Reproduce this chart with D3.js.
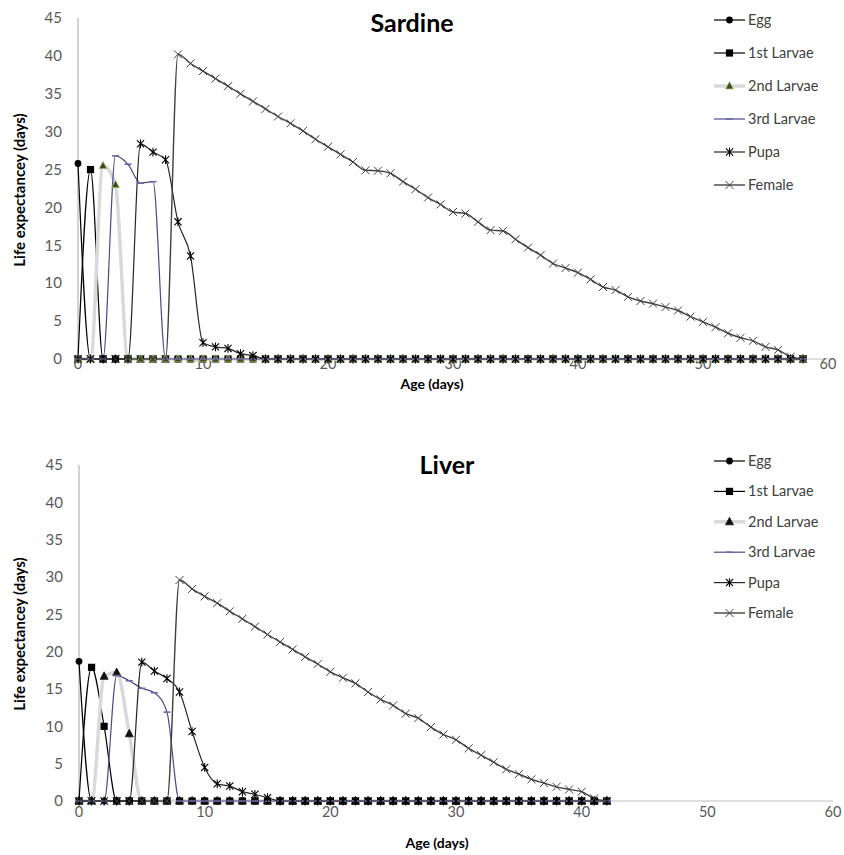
<!DOCTYPE html>
<html><head><meta charset="utf-8">
<script src="https://cdn.jsdelivr.net/npm/d3@7"></script>
<style>
body{margin:0;background:#fff}
svg{display:block}
text{font-family:Lato,"Open Sans",sans-serif}
</style>
</head><body>
<svg id="c" width="844" height="855"></svg>
<script>
// ---------- DATA ----------
const seriesNames = ["Egg", "1st Larvae", "2nd Larvae", "3rd Larvae", "Pupa", "Female"];
const xTicks = [0, 10, 20, 30, 40, 50, 60];
const yTicks = [0, 5, 10, 15, 20, 25, 30, 35, 40, 45];

// Sardine: ages 0..58
const sardineAge = [0,1,2,3,4,5,6,7,8,9,10,11,12,13,14,15,16,17,18,19,20,21,22,23,24,25,26,27,28,29,30,31,32,33,34,35,36,37,38,39,40,41,42,43,44,45,46,47,48,49,50,51,52,53,54,55,56,57,58];
const sardineEgg = [25.8,0,0,0,0,0,0,0,0,0,0,0,0,0,0,0,0,0,0,0,0,0,0,0,0,0,0,0,0,0,0,0,0,0,0,0,0,0,0,0,0,0,0,0,0,0,0,0,0,0,0,0,0,0,0,0,0,0,0];
const sardineL1 = [0,25.0,0,0,0,0,0,0,0,0,0,0,0,0,0,0,0,0,0,0,0,0,0,0,0,0,0,0,0,0,0,0,0,0,0,0,0,0,0,0,0,0,0,0,0,0,0,0,0,0,0,0,0,0,0,0,0,0,0];
const sardineL2 = [0,0,25.5,23.0,0,0,0,0,0,0,0,0,0,0,0,0,0,0,0,0,0,0,0,0,0,0,0,0,0,0,0,0,0,0,0,0,0,0,0,0,0,0,0,0,0,0,0,0,0,0,0,0,0,0,0,0,0,0,0];
const sardineL3 = [0,0,0,26.8,25.7,23.2,23.4,0,0,0,0,0,0,0,0,0,0,0,0,0,0,0,0,0,0,0,0,0,0,0,0,0,0,0,0,0,0,0,0,0,0,0,0,0,0,0,0,0,0,0,0,0,0,0,0,0,0,0,0];
const sardinePupa = [0,0,0,0,0,28.4,27.3,26.3,18.1,13.6,2.15,1.6,1.4,0.7,0.45,0,0,0,0,0,0,0,0,0,0,0,0,0,0,0,0,0,0,0,0,0,0,0,0,0,0,0,0,0,0,0,0,0,0,0,0,0,0,0,0,0,0,0,0];
const sardineFemale = [0,0,0,0,0,0,0,0,40.2,39.0,38.0,37.0,36.0,35.0,34.0,33.0,32.0,31.1,30.1,29.0,28.0,27.0,26.0,24.9,24.85,24.5,23.4,22.4,21.3,20.4,19.4,19.2,18.1,17.0,16.9,15.8,14.7,13.7,12.6,12.0,11.4,10.5,9.5,9.1,8.2,7.65,7.3,6.85,6.4,5.6,4.9,4.2,3.4,2.8,2.4,1.6,1.2,0.3,0];

// Liver: ages 0..42
const liverAge = [0,1,2,3,4,5,6,7,8,9,10,11,12,13,14,15,16,17,18,19,20,21,22,23,24,25,26,27,28,29,30,31,32,33,34,35,36,37,38,39,40,41,42];
const liverEgg = [18.7,0,0,0,0,0,0,0,0,0,0,0,0,0,0,0,0,0,0,0,0,0,0,0,0,0,0,0,0,0,0,0,0,0,0,0,0,0,0,0,0,0,0];
const liverL1 = [0,17.9,10.0,0,0,0,0,0,0,0,0,0,0,0,0,0,0,0,0,0,0,0,0,0,0,0,0,0,0,0,0,0,0,0,0,0,0,0,0,0,0,0,0];
const liverL2 = [0,0,16.7,17.2,9.0,0,0,0,0,0,0,0,0,0,0,0,0,0,0,0,0,0,0,0,0,0,0,0,0,0,0,0,0,0,0,0,0,0,0,0,0,0,0];
const liverL3 = [0,0,0,16.8,16.1,15.1,14.5,11.9,0,0,0,0,0,0,0,0,0,0,0,0,0,0,0,0,0,0,0,0,0,0,0,0,0,0,0,0,0,0,0,0,0,0,0];
const liverPupa = [0,0,0,0,0,18.6,17.4,16.4,14.6,9.3,4.5,2.3,2.0,1.25,0.9,0.45,0,0,0,0,0,0,0,0,0,0,0,0,0,0,0,0,0,0,0,0,0,0,0,0,0,0,0];
const liverFemale = [0,0,0,0,0,0,0,0,29.6,28.4,27.4,26.5,25.4,24.4,23.35,22.3,21.3,20.3,19.3,18.35,17.3,16.5,15.75,14.6,13.6,12.8,11.7,11.1,9.9,8.9,8.2,7.05,6.15,5.2,4.25,3.6,2.9,2.4,1.9,1.55,1.25,0.35,0];

// ---------- STYLE / LAYOUT ----------
const svg = d3.select("#c");

const styles = [
  {line:"#000", lw:1.2, marker:"circle"},
  {line:"#000", lw:1.2, marker:"square"},
  {line:"#d9d9d9", lw:3.5, marker:"triangle"},
  {line:"#4b4b8c", lw:1.2, marker:"dash"},
  {line:"#262626", lw:1.2, marker:"star"},
  {line:"#404040", lw:1.4, marker:"times"}
];

const panels = [
  {title:"Sardine", age:sardineAge, series:[sardineEgg,sardineL1,sardineL2,sardineL3,sardinePupa,sardineFemale],
   x0:78, x1:828, yBottom:359, yTop:18, titleX:412, titleY:32, xLabY:369, xTitleX:432, xTitleY:389, yTitleY:190,
   legY:20, legStep:33, triFill:"#3d4a1c", triStroke:"#b5c98a"},
  {title:"Liver", age:liverAge, series:[liverEgg,liverL1,liverL2,liverL3,liverPupa,liverFemale],
   x0:79, x1:833, yBottom:801, yTop:465, titleX:447, titleY:474, xLabY:817, xTitleX:437, xTitleY:848, yTitleY:634,
   legY:461, legStep:30.4, triFill:"#111", triStroke:"#111"}
];

function drawMarker(g, type, x, y, p) {
  if (type === "circle") {
    g.append("circle").attr("cx", x).attr("cy", y).attr("r", 3.4).attr("fill", "#000");
  } else if (type === "square") {
    g.append("rect").attr("x", x-3.6).attr("y", y-3.6).attr("width", 7.2).attr("height", 7.2).attr("fill", "#000");
  } else if (type === "triangle") {
    g.append("path").attr("transform", `translate(${x},${y})`)
      .attr("d", "M0,-4.5L4,3L-4,3Z").attr("fill", p.triFill).attr("stroke", p.triStroke).attr("stroke-width", 0.8);
  } else if (type === "dash") {
    g.append("line").attr("x1", x-3.5).attr("x2", x+3.5).attr("y1", y).attr("y2", y)
      .attr("stroke", "#6a6aa0").attr("stroke-width", 1.6);
  } else if (type === "star") {
    const s = 3.6;
    g.append("path").attr("transform", `translate(${x},${y})`)
      .attr("d", `M${-s},${-s}L${s},${s}M${-s},${s}L${s},${-s}M0,${-s-0.8}L0,${s+0.8}`)
      .attr("stroke", "#000").attr("stroke-width", 1.1).attr("fill", "none");
  } else if (type === "times") {
    const s = 4;
    g.append("path").attr("transform", `translate(${x},${y})`)
      .attr("d", `M${-s},${-s}L${s},${s}M${-s},${s}L${s},${-s}`)
      .attr("stroke", "#404040").attr("stroke-width", 1).attr("fill", "none");
  }
}

panels.forEach(p => {
  const x = d3.scaleLinear().domain([0, 60]).range([p.x0, p.x1]);
  const y = d3.scaleLinear().domain([0, 45]).range([p.yBottom, p.yTop]);
  const g = svg.append("g");

  // axes lines
  g.append("line").attr("x1", x(0)).attr("x2", x(0)).attr("y1", y(45)).attr("y2", y(0))
    .attr("stroke", "#a6a6a6").attr("stroke-width", 1);
  g.append("line").attr("x1", x(0)).attr("x2", x(60)).attr("y1", y(0)).attr("y2", y(0))
    .attr("stroke", "#bfbfbf").attr("stroke-width", 1);

  // y tick labels
  g.selectAll(".yt").data(yTicks).enter().append("text")
    .attr("x", x(0) - 16).attr("y", d => y(d)).attr("dy", "0.35em")
    .attr("text-anchor", "end").attr("font-size", 15).attr("fill", "#595959").text(d => d);
  // x tick labels
  g.selectAll(".xt").data(xTicks).enter().append("text")
    .attr("x", d => x(d)).attr("y", p.xLabY)
    .attr("text-anchor", "middle").attr("font-size", 14.5).attr("fill", "#595959").text(d => d);

  // titles
  g.append("text").attr("x", p.titleX).attr("y", p.titleY).attr("text-anchor", "middle")
    .attr("font-size", 25).attr("font-weight", "bold").attr("fill", "#000").text(p.title);
  g.append("text").attr("x", p.xTitleX).attr("y", p.xTitleY).attr("text-anchor", "middle")
    .attr("font-size", 14).attr("font-weight", "bold").attr("fill", "#000").text("Age (days)");
  g.append("text").attr("transform", `translate(25,${p.yTitleY}) rotate(-90)`).attr("text-anchor", "middle")
    .attr("font-size", 15).attr("font-weight", "bold").attr("fill", "#000").text("Life expectancey (days)");

  // lines
  const line = d3.line().x((d, i) => x(p.age[i])).y(d => y(d)).curve(d3.curveMonotoneX);
  p.series.forEach((s, k) => {
    g.append("path").datum(s).attr("d", line).attr("fill", "none")
      .attr("stroke", styles[k].line).attr("stroke-width", styles[k].lw).attr("stroke-linejoin", "round");
  });
  // markers
  p.series.forEach((s, k) => {
    const mg = g.append("g");
    s.forEach((v, i) => drawMarker(mg, styles[k].marker, x(p.age[i]), y(v), p));
  });

  // legend
  seriesNames.forEach((name, k) => {
    const ly = p.legY + k * p.legStep;
    const lg = g.append("g");
    lg.append("line").attr("x1", 714).attr("x2", 745).attr("y1", ly).attr("y2", ly)
      .attr("stroke", styles[k].line).attr("stroke-width", styles[k].lw);
    drawMarker(lg, styles[k].marker, 729.5, ly, p);
    lg.append("text").attr("x", 748).attr("y", ly).attr("dy", "0.35em").attr("font-size", 14.5)
      .attr("fill", "#404040").text(name);
  });
});
</script>
</body></html>
